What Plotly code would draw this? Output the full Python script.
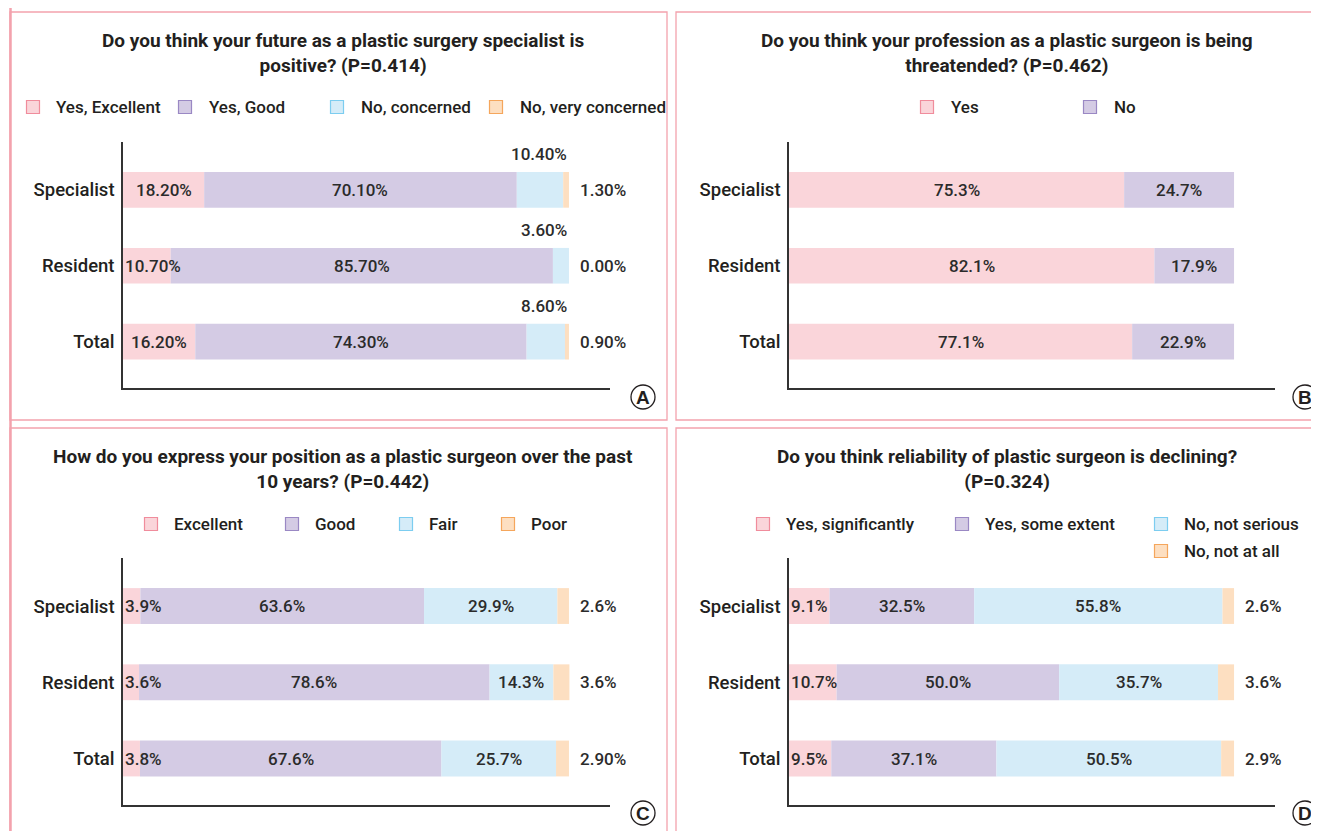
import plotly.graph_objects as go

# The page body has an 8px margin; the figure is sized and offset to fit the 1319x831 view.
VW, VH, OFF = 1319, 831, 8
W, H = VW - OFF, VH - OFF

groups = ["Specialist", "Resident", "Total"]

# Panel A
a_title = "Do you think your future as a plastic surgery specialist is<br>positive? (P=0.414)"
a_series = ["Yes, Excellent", "Yes, Good", "No, concerned", "No, very concerned"]
a_excellent = [18.2, 10.7, 16.2]
a_good = [70.1, 85.7, 74.3]
a_concerned = [10.4, 3.6, 8.6]
a_very = [1.3, 0.0, 0.9]
a_text = [["18.20%", "10.70%", "16.20%"], ["70.10%", "85.70%", "74.30%"],
          ["10.40%", "3.60%", "8.60%"], ["1.30%", "0.00%", "0.90%"]]

# Panel B
b_title = "Do you think your profession as a plastic surgeon is being<br>threatended? (P=0.462)"
b_series = ["Yes", "No"]
b_yes = [75.3, 82.1, 77.1]
b_no = [24.7, 17.9, 22.9]
b_text = [["75.3%", "82.1%", "77.1%"], ["24.7%", "17.9%", "22.9%"]]

# Panel C
c_title = "How do you express your position as a plastic surgeon over the past<br>10 years? (P=0.442)"
c_series = ["Excellent", "Good", "Fair", "Poor"]
c_excellent = [3.9, 3.6, 3.8]
c_good = [63.6, 78.6, 67.6]
c_fair = [29.9, 14.3, 25.7]
c_poor = [2.6, 3.6, 2.9]
c_text = [["3.9%", "3.6%", "3.8%"], ["63.6%", "78.6%", "67.6%"],
          ["29.9%", "14.3%", "25.7%"], ["2.6%", "3.6%", "2.90%"]]

# Panel D
d_title = "Do you think reliability of plastic surgeon is declining?<br>(P=0.324)"
d_series = ["Yes, significantly", "Yes, some extent", "No, not serious", "No, not at all"]
d_signif = [9.1, 10.7, 9.5]
d_some = [32.5, 50.0, 37.1]
d_notserious = [55.8, 35.7, 50.5]
d_notatall = [2.6, 3.6, 2.9]
d_text = [["9.1%", "10.7%", "9.5%"], ["32.5%", "50.0%", "37.1%"],
          ["55.8%", "35.7%", "50.5%"], ["2.6%", "3.6%", "2.9%"]]

FILLS = ["#fad5da", "#d4cbe4", "#d5ecf8", "#fddfc1"]
EDGES = ["#f08c9c", "#9a88c4", "#7ccdf0", "#f5a65c"]
TXT = "#231f20"
COND = "Roboto, Liberation Sans, sans-serif"
LAB = "Roboto, Liberation Sans, Arial, sans-serif"

panels = [
    dict(letter="A", title=a_title, series=a_series,
         values=[a_excellent, a_good, a_concerned, a_very], text=a_text,
         modes=["first", "center", "above", "right"],
         xpx=(123, 610), ypx=(142, 388), title_xy=(343, 53),
         legend=[(33, 54, 107), (185, 207, 107), (337, 359, 107), (496, 518, 107)],
         badge=(643, 397)),
    dict(letter="B", title=b_title, series=b_series,
         values=[b_yes, b_no], text=b_text,
         modes=["center", "center"],
         xpx=(789, 1275), ypx=(142, 388), title_xy=(1007, 53),
         legend=[(927, 949, 107), (1090, 1112, 107)],
         badge=(1305, 397)),
    dict(letter="C", title=c_title, series=c_series,
         values=[c_excellent, c_good, c_fair, c_poor], text=c_text,
         modes=["first", "center", "center", "right"],
         xpx=(123, 610), ypx=(558, 805), title_xy=(343, 469),
         legend=[(151, 172, 524), (292, 313, 524), (406, 427, 524), (508, 529, 524)],
         badge=(643, 813)),
    dict(letter="D", title=d_title, series=d_series,
         values=[d_signif, d_some, d_notserious, d_notatall], text=d_text,
         modes=["first", "center", "center", "right"],
         xpx=(789, 1275), ypx=(558, 805), title_xy=(1007, 469),
         legend=[(763, 784, 524), (962, 983, 524), (1161, 1182, 524), (1161, 1182, 551)],
         badge=(1305, 813)),
]


def px(x):
    return (x - OFF) / W


def py(y):
    return 1 - (y - OFF) / H


fig = go.Figure()
annotations = []
shapes = []
layout = {}

for i, p in enumerate(panels):
    n = i + 1
    xa = "x" if n == 1 else f"x{n}"
    ya = "y" if n == 1 else f"y{n}"
    xkey = "xaxis" if n == 1 else f"xaxis{n}"
    ykey = "yaxis" if n == 1 else f"yaxis{n}"
    x0, x1 = p["xpx"]
    y0, y1 = p["ypx"]
    layout[xkey] = dict(domain=[px(x0), px(x1)], range=[0, 109.2], anchor=ya,
                        showline=True, linecolor="#333333", linewidth=1.5,
                        showgrid=False, zeroline=False, showticklabels=False, ticks="",
                        fixedrange=True)
    layout[ykey] = dict(domain=[py(y1), py(y0)], anchor=xa, type="category",
                        categoryorder="array", categoryarray=groups,
                        range=[2.61, -0.63],
                        showline=True, linecolor="#333333", linewidth=1.5,
                        showgrid=False, zeroline=False, ticks="outside", ticklen=3,
                        tickcolor="rgba(0,0,0,0)",
                        tickfont=dict(family=COND, size=18.5, color=TXT, weight=500),
                        fixedrange=True)
    cum = [0.0, 0.0, 0.0]
    for s, (name, vals, txts, mode) in enumerate(zip(p["series"], p["values"], p["text"], p["modes"])):
        fig.add_trace(go.Bar(
            y=groups, x=vals, base=cum[:], orientation="h", name=name,
            marker=dict(color=FILLS[s], line=dict(width=0)),
            width=0.47, xaxis=xa, yaxis=ya, showlegend=False, hoverinfo="skip"))
        for g, (grp, v, t) in enumerate(zip(groups, vals, txts)):
            start = cum[g]
            end = start + v
            ann = dict(xref=xa, yref=ya, y=grp, text=t, showarrow=False,
                       font=dict(family=LAB, size=17, color="#2b2b2b", weight=500))
            if mode == "first" and v < 12:
                ann.update(x=start, xanchor="left", xshift=0)
            elif mode in ("first", "center"):
                ann.update(x=start + v / 2, xanchor="center")
            elif mode == "above":
                total = sum(vv[g] for vv in p["values"])
                ann.update(x=total, xanchor="right", yshift=36)
            elif mode == "right":
                ann.update(x=end, xanchor="left", xshift=9)
            annotations.append(ann)
            cum[g] = end
    # title
    tx, ty = p["title_xy"]
    annotations.append(dict(xref="paper", yref="paper", x=px(tx), y=py(ty), text=p["title"],
                            showarrow=False, xanchor="center", yanchor="middle",
                            font=dict(family=COND, size=19, color=TXT, weight="bold")))
    # legend
    for s, (sx, lx, ly) in enumerate(p["legend"]):
        shapes.append(dict(type="rect", xref="paper", yref="paper",
                           x0=px(sx - 6.5), x1=px(sx + 6.5), y0=py(ly + 6.5), y1=py(ly - 6.5),
                           fillcolor=FILLS[s], line=dict(color=EDGES[s], width=1.2)))
        annotations.append(dict(xref="paper", yref="paper", x=px(lx), y=py(ly),
                                text=p["series"][s], showarrow=False, xanchor="left",
                                yanchor="middle",
                                font=dict(family=COND, size=17, color=TXT, weight=500)))
    # badge
    bx, by = p["badge"]
    shapes.append(dict(type="circle", xref="paper", yref="paper",
                       x0=px(bx - 12), x1=px(bx + 12), y0=py(by + 12), y1=py(by - 12),
                       line=dict(color="#231f20", width=1.3), fillcolor="white"))
    annotations.append(dict(xref="paper", yref="paper", x=px(bx), y=py(by), text=p["letter"],
                            showarrow=False, xanchor="center", yanchor="middle",
                            font=dict(family="Liberation Sans, Arial, sans-serif", size=19,
                                      color=TXT, weight="bold")))

# panel borders
BORDER = "#f3a2ad"
for (bx0, by0, bx1, by1) in [(10, 12, 667, 420), (676, 12, 1330, 420),
                             (10, 428, 667, 840), (676, 428, 1330, 840)]:
    shapes.append(dict(type="rect", xref="paper", yref="paper", layer="below",
                       x0=px(bx0), x1=px(bx1), y0=py(by1), y1=py(by0),
                       line=dict(color=BORDER, width=1.3), fillcolor="rgba(0,0,0,0)"))
shapes.append(dict(type="line", xref="paper", yref="paper", x0=px(10.5), x1=px(10.5),
                   y0=0, y1=1, line=dict(color=BORDER, width=2.5)))

fig.update_layout(width=W, height=H, margin=dict(l=0, r=0, t=0, b=0),
                  paper_bgcolor="white", plot_bgcolor="white", barmode="overlay",
                  showlegend=False, annotations=annotations, shapes=shapes, **layout)

fig.write_html("out.html")
